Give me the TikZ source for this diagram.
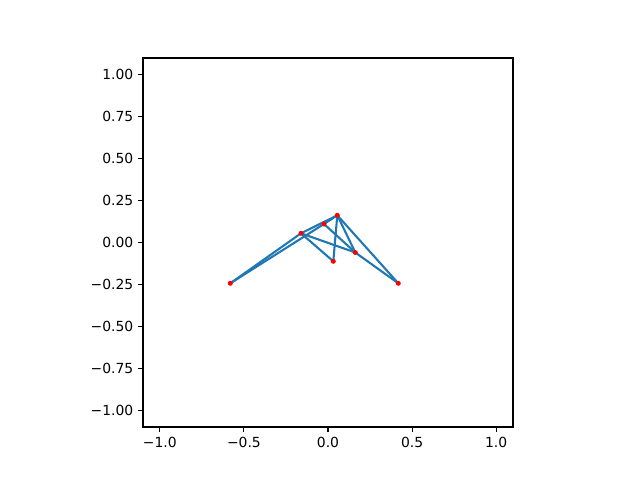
\documentclass[tikz,border=0pt]{standalone}
\usepackage{fontspec}
\setmainfont{DejaVu Sans}
\definecolor{mplblue}{HTML}{1F77B4}
\begin{document}
\begin{tikzpicture}[x=1pt,y=-1pt,
  edge/.style={draw=mplblue,line width=2.08pt},
  dot/.style={circle,fill=red,inner sep=0pt,minimum size=5pt},
  spine/.style={draw=black,line width=1.1pt},
  tick/.style={draw=black,line width=1.1pt},
  ticklab/.style={font=\fontsize{13.9}{16}\selectfont,inner sep=0pt}]
\useasboundingbox (0,0) rectangle (640,480);
\fill[white] (0,0) rectangle (640,480);
% data points (pixel coordinates)
\coordinate (A) at (230.3,283.3);
\coordinate (B) at (301.0,233.3);
\coordinate (C) at (324.0,224.0);
\coordinate (D) at (337.3,215.3);
\coordinate (E) at (333.3,261.3);
\coordinate (F) at (355.3,252.5);
\coordinate (G) at (398.3,283.3);
% edges
\draw[edge] (A) -- (B);
\draw[edge] (A) -- (C);
\draw[edge] (C) -- (D);
\draw[edge] (B) -- (D);
\draw[edge] (B) -- (E);
\draw[edge] (B) -- (F);
\draw[edge] (C) -- (F);
\draw[edge] (D) -- (E);
\draw[edge] (D) -- (F);
\draw[edge] (D) -- (G);
\draw[edge] (F) -- (G);
% dots
\foreach \p in {A,B,C,D,E,F,G} \node[dot] (n\p) at (\p) {};
% axes frame
\draw[spine] (143,58) rectangle (513,427);
% x ticks
\foreach \v/\lab [count=\i] in {-1/{−1.0},-0.5/{−0.5},0/{0.0},0.5/{0.5},1/{1.0}} {
  \coordinate (xt\i) at ({328+\v*168.18},427);
  \draw[tick] (xt\i) -- ++(0,4.9);
  \node[ticklab,anchor=north] (xl\i) at ({328+\v*168.18},436.5) {\lab};
}
% y ticks
\foreach \v/\lab [count=\i] in {-1/{−1.00},-0.75/{−0.75},-0.5/{−0.50},-0.25/{−0.25},0/{0.00},0.25/{0.25},0.5/{0.50},0.75/{0.75},1/{1.00}} {
  \coordinate (yt\i) at (143,{242.5-\v*168.18});
  \draw[tick] (yt\i) -- ++(-4.9,0);
  \node[ticklab,anchor=east] (yl\i) at (133.5,{242.5-\v*168.18}) {\lab};
}
\end{tikzpicture}
\end{document}
